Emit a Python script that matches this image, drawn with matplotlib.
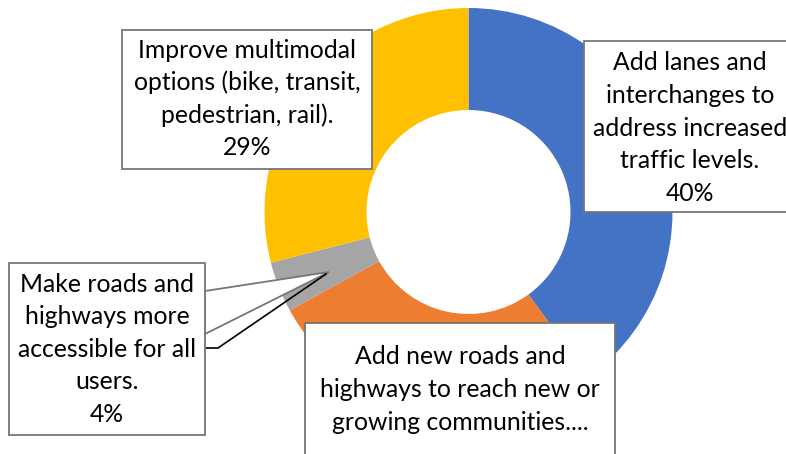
import numpy as np
import matplotlib.pyplot as plt
from matplotlib.patches import Rectangle, Polygon

# data
labels = ['Add lanes and\ninterchanges to\naddress increased\ntraffic levels.\n40%',
          'Add new roads and\nhighways to reach new or\ngrowing communities....',
          'Make roads and\nhighways more\naccessible for all\nusers.\n4%',
          'Improve multimodal\noptions (bike, transit,\npedestrian, rail).\n29%']
values = [40, 27, 4, 29]
colors = ['#4472C4', '#ED7D31', '#A5A5A5', '#FFC000']

W, H = 786, 454
fig = plt.figure(figsize=(W / 100, H / 100), dpi=100)
ax = fig.add_axes([0, 0, 1, 1])
ax.axis('off')

def Y(y):  # pixel row -> data y
    return H - y

cx, cy, r = 468.5, Y(212), 204
ax.pie(values, colors=colors, startangle=90, counterclock=False,
       center=(cx, cy), radius=r, wedgeprops=dict(width=r * 0.5, linewidth=0))
ax.set_xlim(0, W)
ax.set_ylim(0, H)
ax.set_aspect('auto')

# label boxes: (left, top, right, bottom), text centre x, first line y
boxes = [(584, 41, 800, 212, 690, 63),
         (305, 323, 615, 470, 460, 357),
         (9, 263, 205, 435, 107, 284),
         (122, 30, 372, 169, 247, 50)]

font = dict(family=['Lato', 'DejaVu Sans'], fontsize=17.8, color='black')
line_h = 32.6

# callout pointer for the small slice
ax.add_patch(Polygon([(205, Y(291)), (329, Y(272)), (205, Y(334))], closed=True,
                     facecolor='white', edgecolor='#767676', linewidth=1.3, zorder=3))
ax.plot([205, 218, 326], [Y(348), Y(348), Y(274)], color='black', lw=1.2, zorder=3)

for (l, t, rr, b, tx, ty), lab in zip(boxes, labels):
    ax.add_patch(Rectangle((l, Y(b)), rr - l, b - t, facecolor='white',
                           edgecolor='#767676', linewidth=1.3, zorder=4))
    for i, line in enumerate(lab.split('\n')):
        ax.text(tx, Y(ty + i * line_h), line, ha='center', va='center', zorder=5, **font)

fig.savefig('out.png', dpi=100)
